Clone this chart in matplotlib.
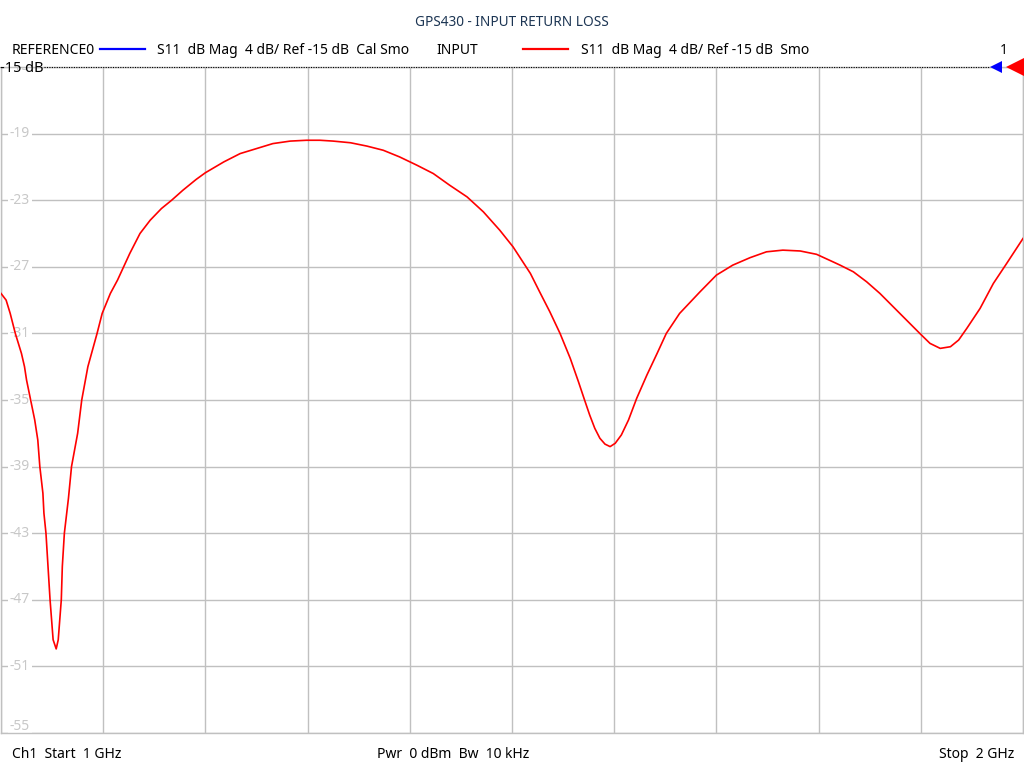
import matplotlib
matplotlib.use('Agg')
import matplotlib.pyplot as plt

# S11 trace (frequency in MHz, magnitude in dB)
freq_mhz = [1000, 1005, 1009, 1014, 1020, 1023, 1025, 1029, 1033, 1036, 1038, 1041, 1042, 1044,
            1046, 1048, 1050, 1051, 1054, 1056, 1057, 1059, 1060, 1062, 1066, 1069, 1075, 1079,
            1085, 1094, 1099, 1107, 1114, 1120, 1126, 1136, 1146, 1157, 1167, 1178, 1191, 1200,
            1218, 1234, 1250, 1266, 1283, 1299, 1312, 1325, 1342, 1358, 1374, 1390, 1407, 1423,
            1439, 1456, 1472, 1488, 1501, 1518, 1527, 1537, 1547, 1557, 1565, 1571, 1576, 1581,
            1586, 1591, 1596, 1601, 1607, 1614, 1622, 1632, 1642, 1651, 1664, 1684, 1700, 1716,
            1733, 1749, 1765, 1782, 1798, 1814, 1821, 1834, 1847, 1860, 1873, 1886, 1899, 1909,
            1919, 1929, 1937, 1945, 1958, 1971, 1984, 2000]
s11_db = [-28.6, -29.0, -29.8, -31.0, -32.2, -33.0, -33.8, -35.0, -36.2, -37.4, -39.0, -40.6, -41.8, -43.0,
          -45.0, -47.0, -48.6, -49.4, -49.95, -49.4, -48.6, -47.0, -45.0, -43.0, -40.9, -39.0, -37.0, -35.0,
          -33.0, -31.0, -29.8, -28.6, -27.8, -27.0, -26.2, -25.0, -24.2, -23.5, -23.0, -22.4, -21.75, -21.35,
          -20.7, -20.2, -19.9, -19.6, -19.45, -19.4, -19.4, -19.45, -19.55, -19.75, -20.0, -20.4, -20.9, -21.4,
          -22.1, -22.8, -23.7, -24.8, -25.8, -27.4, -28.5, -29.7, -31.0, -32.5, -33.9, -35.0, -35.9, -36.7,
          -37.3, -37.65, -37.8, -37.6, -37.1, -36.2, -34.9, -33.5, -32.2, -31.0, -29.8, -28.5, -27.5, -26.9,
          -26.45, -26.1, -26.0, -26.05, -26.25, -26.7, -26.9, -27.3, -27.9, -28.6, -29.4, -30.2, -31.0, -31.6,
          -31.9, -31.8, -31.4, -30.7, -29.5, -28.0, -26.8, -25.3]

y_ticks = [-15, -19, -23, -27, -31, -35, -39, -43, -47, -51, -55]
x_grid = [1000 + 100 * i for i in range(11)]

title = 'GPS430 - INPUT RETURN LOSS'
ref_name = 'REFERENCE0'
ref_desc = 'S11  dB Mag  4 dB/ Ref -15 dB  Cal Smo'
trace_name = 'INPUT'
trace_desc = 'S11  dB Mag  4 dB/ Ref -15 dB  Smo'

plt.rcParams['font.family'] = ['Noto Sans', 'DejaVu Sans']

W, H = 1024, 768
fig = plt.figure(figsize=(W / 100, H / 100), dpi=100)
fig.patch.set_facecolor('white')
ax = fig.add_axes([1 / W, 1 - 733 / H, 1022 / W, 666 / H])
ax.set_xlim(1000, 2000)
ax.set_ylim(-55, -15)

grid_col = '#c0c0c0'
for x in x_grid:
    ax.axvline(x, color=grid_col, lw=1, zorder=1)
for y in y_ticks:
    ax.axhline(y, color=grid_col, lw=1, zorder=1)
ax.set_xticks([])
ax.set_yticks([])
for s in ax.spines.values():
    s.set_color(grid_col)
    s.set_linewidth(1)

# y labels sit inside the grid, on a white patch
for y in y_ticks:
    yy = y
    if y == -55:
        yy = -54.6
    ax.text(9 / 1022, yy, str(y), transform=ax.get_yaxis_transform(), color='#c8c8c8',
            fontsize=10, va='center', ha='left', zorder=2, clip_on=True,
            bbox=dict(boxstyle='square,pad=0.12', fc='white', ec='none'))

ax.plot(freq_mhz, s11_db, color='#ff0000', lw=1.2, zorder=5)

# reference line and markers
ax.plot([0.042, 0.968], [1, 1], transform=ax.transAxes, color='black', lw=0.8,
        linestyle=(0, (1, 1.2)), clip_on=False, zorder=6)
ax.plot([0.974], [1], transform=ax.transAxes, marker='<', color='#0000ff', markersize=8,
        clip_on=False, zorder=7, markeredgewidth=0)
ax.plot([0.992], [1], transform=ax.transAxes, marker='<', color='#ff0000', markersize=13,
        clip_on=False, zorder=7, markeredgewidth=0)

def px(x, y):
    return x / W, 1 - y / H

fig.text(*px(512, 23), title, ha='center', va='center', fontsize=9.8, color='#1c3553')
fig.text(*px(0, 68), '-15 dB', ha='left', va='center', fontsize=10.5, color='black', zorder=8)

fs = 10
fig.text(*px(12, 51), ref_name, ha='left', va='center', fontsize=fs, color='black')
fig.add_artist(plt.Line2D([100 / W, 145 / W], [1 - 49 / H] * 2, color='#0000ff', lw=1.6))
fig.text(*px(157, 51), ref_desc, ha='left', va='center', fontsize=fs, color='black')
fig.text(*px(436, 51), trace_name, ha='left', va='center', fontsize=fs, color='black')
fig.add_artist(plt.Line2D([523 / W, 568 / W], [1 - 49 / H] * 2, color='#ff0000', lw=1.6))
fig.text(*px(581, 51), trace_desc, ha='left', va='center', fontsize=fs, color='black')
fig.text(*px(1008, 51), '1', ha='right', va='center', fontsize=fs, color='black')

fig.text(*px(12, 754), 'Ch1  Start  1 GHz', ha='left', va='center', fontsize=fs, color='black')
fig.text(*px(377, 754), 'Pwr  0 dBm  Bw  10 kHz', ha='left', va='center', fontsize=fs, color='black')
fig.text(*px(1014, 754), 'Stop  2 GHz', ha='right', va='center', fontsize=fs, color='black')

fig.savefig('out.png', dpi=100, facecolor='white')
